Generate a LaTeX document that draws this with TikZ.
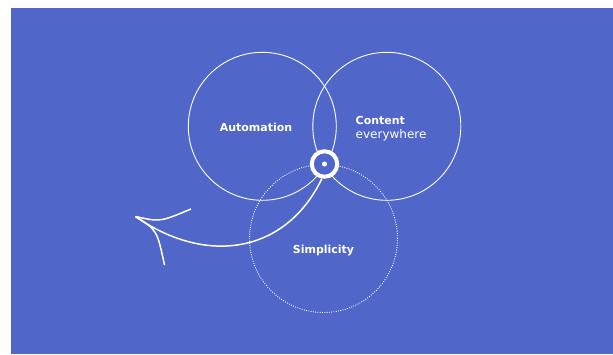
\documentclass[tikz,border=0pt]{standalone}
\usepackage{fontspec}
\setmainfont{DejaVu Sans}
\usetikzlibrary{calc}
\definecolor{bgblue}{RGB}{80,102,201}

\begin{document}
\begin{tikzpicture}
	[x=1pt,y=-1pt,
	every node/.style={text=white,inner sep=0pt},
	ring/.style={shape=circle,draw=white,minimum size=148pt},
	lbl/.style={font=\fontsize{11}{13}\selectfont\bfseries}]
	\useasboundingbox (0,0) rectangle (613,354);
	\fill[bgblue] (11,8) rectangle (613,354);
	
	\node[ring,line width=0.9pt] (auto) at (262.3,126.3) {};
	\node[ring,line width=0.9pt] (cont) at (386.8,126.3) {};
	\node[ring,line width=0.9pt,dash pattern=on 0.9pt off 1.4pt] (simp) at (323.5,238.5) {};
	
	\node[lbl] (autoText) at (256,127) {Automation};
	\node[lbl,anchor=base west] (contText) at (355.5,124) {Content};
	\node[font=\fontsize{12}{14}\selectfont,anchor=base west] (everyText) at (355.5,138) {everywhere};
	\node[lbl] (simpText) at (323.5,251) {Simplicity};
	
	\node[shape=circle,draw=white,fill=bgblue,line width=4pt,minimum size=25.5pt] (hub) at (324.5,164) {};
	\fill[white] (hub) circle (2.5);
	
	\coordinate (tip) at (135.5,216.5);
	\draw[white,line width=1.5pt]
		(hub.-100) .. controls (285,255) and (205,265) .. (tip);
	\foreach \endPt/\ctrl in {{(191,209)}/{(160,222)}, {(164.5,265)}/{(157,230)}}
	{
		\draw[white,line width=1.5pt] (tip) .. controls \ctrl .. \endPt;
	}
\end{tikzpicture}
\end{document}
